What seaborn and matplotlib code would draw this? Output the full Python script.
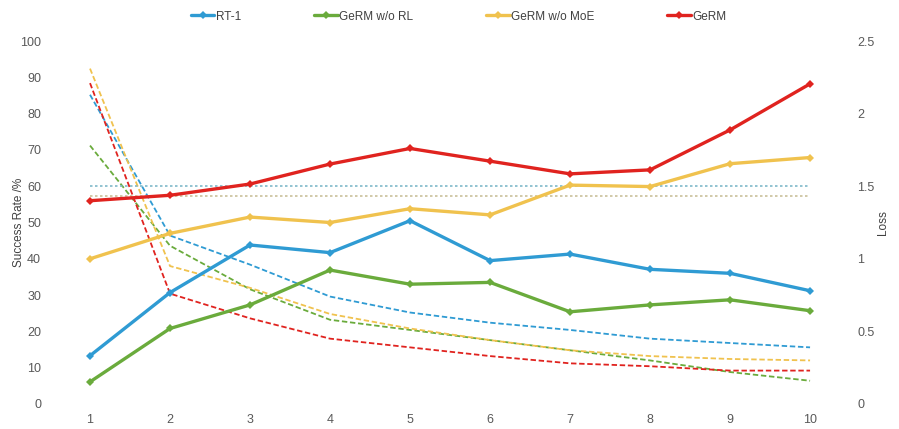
import matplotlib
matplotlib.use("Agg")
import matplotlib.pyplot as plt
import seaborn as sns
import pandas as pd

# Training rounds on the x axis
rounds = [1, 2, 3, 4, 5, 6, 7, 8, 9, 10]

# Success rate (%) per model, left axis
rt1_success = [13.3, 30.7, 43.8, 41.7, 50.5, 39.5, 41.3, 37.1, 36.0, 31.2]
norl_success = [6.1, 20.8, 27.3, 36.9, 33.0, 33.5, 25.4, 27.3, 28.7, 25.7]
nomoe_success = [40.0, 47.0, 51.5, 50.0, 53.8, 52.1, 60.3, 59.9, 66.2, 67.9]
germ_success = [56.0, 57.5, 60.6, 66.1, 70.4, 66.9, 63.4, 64.5, 75.5, 88.2]

# Training loss per model, right axis
rt1_loss = [2.13, 1.16, 0.96, 0.74, 0.63, 0.56, 0.51, 0.45, 0.42, 0.39]
norl_loss = [1.78, 1.09, 0.79, 0.58, 0.51, 0.44, 0.37, 0.30, 0.22, 0.16]
nomoe_loss = [2.31, 0.95, 0.80, 0.62, 0.52, 0.44, 0.37, 0.33, 0.31, 0.30]
germ_loss = [2.21, 0.76, 0.59, 0.45, 0.39, 0.33, 0.28, 0.26, 0.23, 0.23]

# Flat reference levels (success rate %)
ref_levels = [60.0, 57.3]

labels = ["RT-1", "GeRM w/o RL", "GeRM w/o MoE", "GeRM"]
colors = ["#2f9bd3", "#6aab3c", "#f0c24e", "#e0231f"]
ref_colors = ["#7fb9c9", "#c9c09a"]

success = [rt1_success, norl_success, nomoe_success, germ_success]
losses = [rt1_loss, norl_loss, nomoe_loss, germ_loss]

sns.set_theme(style="white")
plt.rcParams["font.family"] = ["Liberation Sans", "DejaVu Sans"]

fig = plt.figure(figsize=(8.99, 4.29), dpi=100)
ax = fig.add_axes([0.0612, 0.0583, 0.8788, 0.8461])
ax2 = ax.twinx()

# Dashed loss curves on the secondary axis
for vals, col in zip(losses, colors):
    df = pd.DataFrame({"round": rounds, "loss": vals})
    sns.lineplot(data=df, x="round", y="loss", ax=ax2, color=col,
                 linewidth=1.3, linestyle=(0, (3, 1.5)), legend=False)

# Flat dotted reference levels
for lvl, col in zip(ref_levels, ref_colors):
    df = pd.DataFrame({"round": rounds, "level": [lvl] * len(rounds)})
    sns.lineplot(data=df, x="round", y="level", ax=ax, color=col,
                 linewidth=1.2, linestyle=(0, (1.5, 1.5)), legend=False)

# Solid success-rate curves with small diamond markers
handles = []
for vals, col, lab in zip(success, colors, labels):
    df = pd.DataFrame({"round": rounds, "rate": vals})
    sns.lineplot(data=df, x="round", y="rate", ax=ax, color=col,
                 linewidth=2.4, marker="D", markersize=4.5,
                 markeredgewidth=0, legend=False)
    handles.append(ax.lines[-1])

ax.set_zorder(ax2.get_zorder() + 1)
ax.patch.set_visible(False)

ax.set_xlim(0.5625, 10.4375)
ax.set_ylim(0, 100)
ax2.set_ylim(0, 2.5)
ax.set_xticks(rounds)
ax.set_yticks(range(0, 101, 10))
ax2.set_yticks([0, 0.5, 1, 1.5, 2, 2.5])
ax2.set_yticklabels(["0", "0.5", "1", "1.5", "2", "2.5"])

tick_col = "#595959"
for a in (ax, ax2):
    for s in a.spines.values():
        s.set_visible(False)
    a.tick_params(axis="both", length=0, labelsize=9, colors=tick_col)
    a.grid(False)
ax.tick_params(axis="x", pad=7)
ax.tick_params(axis="y", pad=10)
ax2.tick_params(axis="y", pad=9)

ax.set_xlabel("")
ax.set_ylabel("Success Rate /%", fontsize=8.5, color="#404040")
ax.yaxis.set_label_coords(-0.038, 0.5)
ax2.set_ylabel("Loss", fontsize=8.5, color="#404040")
ax2.yaxis.set_label_coords(1.04, 0.5)

fig.legend(handles, labels, loc="upper center", bbox_to_anchor=(0.51, 1.0),
           ncol=4, frameon=False, fontsize=8.5, handlelength=2.0,
           handletextpad=0.1, columnspacing=6.2, markerscale=0.8,
           labelcolor="#404040")

fig.savefig("out.png", dpi=100)
